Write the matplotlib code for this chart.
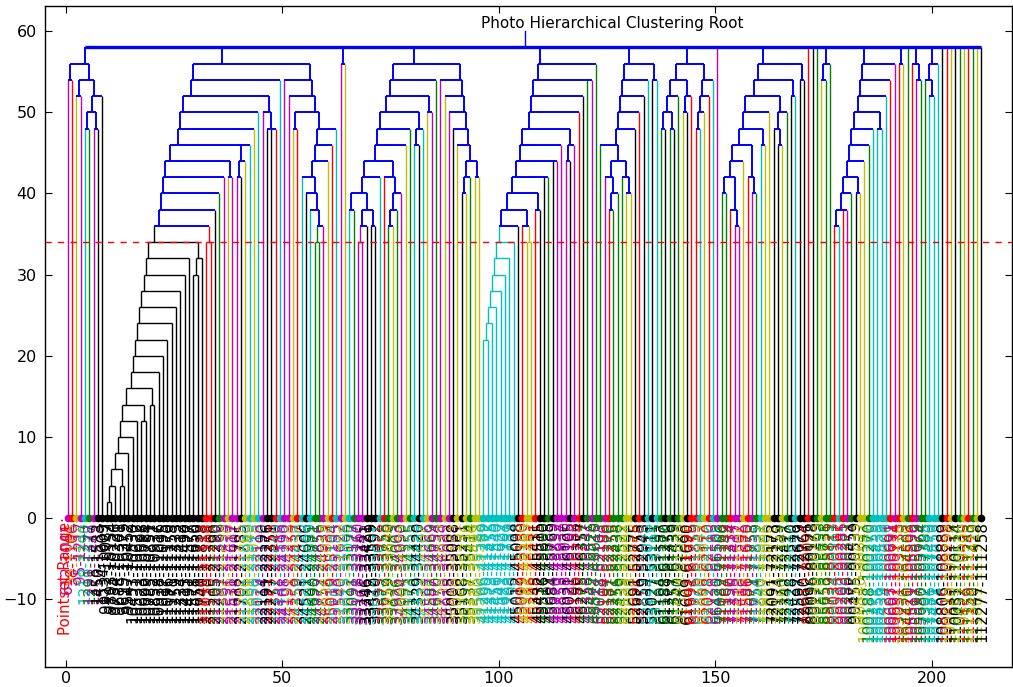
import matplotlib
matplotlib.use('Agg')
import matplotlib.pyplot as plt

ROOT_HEIGHT = 58
THRESHOLD = 34
N_LEAVES = 212
TITLE = "Photo Hierarchical Clustering Root"
RANGE_TITLE = "Pointset Range:"

# leaf colour codes, leaf 0 .. 211
LEAF_COLOR_CODES = ("mrymcgmkkk" "kkkkkkkkkk" "kkkkkkkkkk" "kkrrkgmymm"
                    "kycycmkkrc" "mmyrckcggm" "yrcmycgmmk" "kkcrgygmyg"
                    "ckcymgmymk" "ykygyycccc" "cccckryyrk" "kgkmmmkmrk"
                    "gmggmrgggy" "ykrkckcgkg" "kgykrrcyrc" "mggrmmyrmg"
                    "cyykkygkck" "krkgyggrcr" "mgkyygcccc" "rmrygrmggc"
                    "cckrykgyrgyk")

LEAF_LABELS = """
612-1041 38-1106 77-1152 95-1217 1218-1290 1291-1377 1378-1449 1450-1533 1534-1609
9912-10087 9803-10154 9734-10226 9688-10301 9615-10379 9547-10452
10453-10530 10531-10622 10623-10698 10699-10784 10785-10851 10852-10937 10938-11016
11017-11095 11096-11170 11171-11258 11259-11333 11334-11412 11413-11490 11491-11577
11578-11650 11651-11739 11740-11818
21035-21118 21119-21204 21205-21290 21291-21366 21367-21455 21456-21530 21531-21617
21618-21701 21702-21785 21786-21860 21861-21949 21950-22028 22029-22113 22114-22190
22191-22276 22277-22351 22352-22440 22441-22519
24108-24190 24191-24273 24274-24358 24359-24437 24438-24520 24521-24606 24607-24689
24690-24771 24772-24856 24857-24935 24936-25018 25019-25104 25105-25183
31540-31622 31623-31708
33012-33090 33091-33177 33178-33260 33261-33345 33346-33421 33422-33509 33510-33592
33593-33671 33672-33758 33759-33840 33841-33925 33926-34003 34004-34090 34091-34172
34173-34255 34256-34338 34339-34420 34421-34507 34508-34586 34587-34669 34670-34754
34755-34838 34839-34917 34918-35002 35003-35088 35089-35167 35168-35251 35252-35336
35337-35414 35415-35499 35500-35583
41206-41289 41290-41372 41373-41455 41456-41540 41541-41622 41623-41707 41708-41789
41790-41874
45012-45098 45099-45180 45181-45265 45266-45347 45348-45431 45432-45515 45516-45600
45601-45683 45684-45769 45770-45852 45853-45937 45938-46020 46021-46105 46106-46188
46189-46274 46275-46357 46358-46441 46442-46526 46527-46610
52018-52103 52104-52186 52187-52270 52271-52355 52356-52438 52439-52522 52523-52607
52608-52690 52691-52775 52776-52858 52859-52943 52944-53026 53027-53111 53112-53195
61104-61187 61188-61270 61271-61356 61357-61439 61440-61523 61524-61608 61609-61690
61691-61775 61776-61859 61860-61942 61943-62027 62028-62110 62111-62196
66420-66503
71082-71166 71167-71249 71250-71334 71335-71417 71418-71502 71503-71585 71586-71670
71671-71753 71754-71839 71840-71921 71922-72006 72007-72090 72091-72173 72174-72259
72260-72341 72342-72427 72428-72510 72511-72596 72597-72679 72680-72764
80012-80095 80096-80178 80179-80263
85570-85652 85653-85738 85739-85821
90034-90117 90118-90202 90203-90285 90286-90371 90372-90454 90455-90539 90540-90622
100102-100187 100188-100270 100271-100355 100356-100438 100439-100523 100524-100606
100607-100691 100692-100774 103051-103135 103136-103218 104420-104503 105511-105596
105597-105679 105680-105764 107302-107385 107386-107470 107471-107553 107554-107638
108806-108889 109215-109298 109640-109724 110031-110114 110452-110536 110817-110900
111159-111243 111340-111429 111861-111944 112277-111258
""".split()

# ---- tree: (merge height, child, child, ...) ; integers are leaf indices ----
CLUSTER_A = (56, (54, 0, 1), (54, (52, 2, 3), (52, (50, (48, 4, 5), (48, 6, 7)), 8)))

CLUSTER_BLACK = (34, (32, (30, (28, (26, (24, (22, (20, (18, (16, (14, (12, (10, (8, (6,
                 (4, (2, 9, 10), 11), (4, 12, 13)), 14), 15), 16), (12, 17, 18)), (14, 19, 20)),
                 21), 22), 23), 24), 25), 26), 27), 28), (32, (30, 29, 30), 31))

CLUSTER_B_LEFT = (54, (52, (50, (48, (46, (44, (42, (40, (38, (36, CLUSTER_BLACK, (34, 32, 33)),
                  34), 35), 36), (42, 37, 38)), (46, (44, (42, 39, 40), 41), 42)), 43), 44),
                  (50, 45, (48, 46, (48, 47, 48)))), 49)

CLUSTER_B_RIGHT = (54, 50, (52, 51, (50, (48, 52, 53), (48, (46, (44, (42, 54, (40, 55, (38, 56,
                   (36, (34, 57, 58), 59)))), 60), 61), 62))))

PAIR_63 = (56, 63, 64)

CLUSTER_C_LEFT = (54, (52, (50, (48, (46, (44, (42, (40, (38, 65, 66), (38, (36, (34, 67, 68), 69),
                  (36, 70, 71))), 72), (42, 73, (40, (38, (36, 74, 75), 76), 77))), 78), 79),
                  (48, (46, 80, 81), 82)), (50, 83, 84)), 85)

CLUSTER_C_RIGHT = (54, 86, (52, 87, (50, 88, (48, 89, (46, 90, (44, (42, (40, 91, 92), 93),
                   (42, 94, 95)))))))

CLUSTER_CYAN = (34, (32, (30, (28, (26, (24, (22, 96, 97), 98), 99), 100), 101), 102), 103)

CLUSTER_D = (56, (54, (52, (50, (48, (46, (44, (42, (40, (38, (36, CLUSTER_CYAN, 104),
             (36, 105, (34, 106, 107))), (38, 108, 109)), (42, 110, 111)), (44, 112, 113)), 114),
             (46, (44, 115, 116), 117)), 118), 119), (54, 120, 121)), 122)

CLUSTER_E = (56, (54, (52, (50, (48, (46, 123, (44, (42, 124, (40, (38, 125, 126), 127)),
             (42, 128, (40, 129, 130)))), 131), 132), 133), 134), (54, 135, 136))

CLUSTER_F = (56, (54, (52, (50, (48, 137, 138), (48, 139, 140)), 141), (52, (50, 142, 143), 144)),
             (54, (52, (50, (48, 145, 146), 147), 148), 149))

CLUSTER_G = (56, (54, (52, (50, (48, (46, (44, (42, (40, 151, 152), (38, 153, (36, 154, 155))),
             156), (42, 157, (40, 158, 159))), (46, 160, 161)), 162),
             (50, (48, 163, (46, 164, 165)), 166)), (52, 167, 168)), (54, 169, 170))

TRIPLE_174 = (56, (54, 174, 175), 176)

CLUSTER_H = (56, (54, (52, (50, (48, (46, (44, (42, (40, (38, (36, 177, 178), (38, 179, 180)), 181),
             (40, 182, 183)), 184), 185), 186), (48, 187, 188)), 189), 190), 191)

PAIR_192 = (56, 192, 193)
TRIPLE_195 = (56, 195, (54, 196, 197))
QUAD_198 = (56, (54, 198, (52, 199, 200)), 201)

ROOT_CHILDREN = [CLUSTER_A, (56, CLUSTER_B_LEFT, CLUSTER_B_RIGHT), PAIR_63,
                 (56, CLUSTER_C_LEFT, CLUSTER_C_RIGHT), CLUSTER_D, CLUSTER_E, CLUSTER_F, 150,
                 CLUSTER_G, 171, 172, 173, TRIPLE_174, CLUSTER_H, PAIR_192, 194, TRIPLE_195,
                 QUAD_198, 202, 203, 204, 205, 206, 207, 208, 209, 210, 211]

CODE_TO_RGB = {'b': (0, 0, 1), 'g': (0, 0.5, 0), 'r': (1, 0, 0), 'c': (0, 0.75, 0.75),
               'm': (0.75, 0, 0.75), 'y': (0.75, 0.75, 0), 'k': (0, 0, 0)}
LEAF_OFFSET = 0.5

ROOT = (ROOT_HEIGHT,) + tuple(ROOT_CHILDREN)


def leaves_of(node):
    if isinstance(node, int):
        return [node]
    out = []
    for c in node[1:]:
        out += leaves_of(c)
    return out


def xpos(node):
    lv = leaves_of(node)
    return sum(i + LEAF_OFFSET for i in lv) / len(lv)


def height(node):
    return 0 if isinstance(node, int) else node[0]


def colour_of(node):
    if isinstance(node, int):
        return CODE_TO_RGB[LEAF_COLOR_CODES[node]]
    if node[0] <= THRESHOLD:
        return CODE_TO_RGB[LEAF_COLOR_CODES[leaves_of(node)[0]]]
    return CODE_TO_RGB['b']


fig = plt.figure(figsize=(10.13, 6.87), dpi=100)
ax = fig.add_axes([0.0444, 0.0295, 0.9543, 0.9618])


def draw(node, is_root=False):
    if isinstance(node, int):
        return
    h = node[0]
    xs = [xpos(c) for c in node[1:]]
    col = colour_of(node)
    blue = h > THRESHOLD
    for c, x in zip(node[1:], xs):
        cc = colour_of(c)
        lw = 1.4 if (not isinstance(c, int) and height(c) > THRESHOLD) else 1.0
        ax.plot([x, x], [height(c), h], color=cc, lw=lw, solid_capstyle='butt', zorder=2)
        draw(c)
    ax.plot([min(xs), max(xs)], [h, h], color=col,
            lw=(2.4 if is_root else (1.4 if blue else 1.0)), solid_capstyle='butt', zorder=3)


draw(ROOT, is_root=True)
root_x = xpos(ROOT)
ax.plot([root_x, root_x], [ROOT_HEIGHT, ROOT_HEIGHT + 2], color='b', lw=1.0, zorder=3)
ax.text(96, 61.0, TITLE, ha='left', va='center', fontsize=11)

# threshold
ax.axhline(THRESHOLD, color='r', ls='--', lw=1, dashes=(4.5, 4.5), zorder=4)

# leaf markers and labels
for i in range(N_LEAVES):
    col = CODE_TO_RGB[LEAF_COLOR_CODES[i]]
    x = i + LEAF_OFFSET
    ax.plot([x], [0], 'o', color=col, ms=4.5, mec=col, zorder=5)
    ax.text(x, -0.35, LEAF_LABELS[i], rotation=90, ha='center', va='top',
            fontsize=11, color=col)
ax.text(0, 0.1, RANGE_TITLE, rotation=90, ha='center', va='top', fontsize=10.8, color='r')

ax.set_xlim(-4.78, 218.5)
ax.set_ylim(-18.3, 63.1)
ax.set_xticks([0, 50, 100, 150, 200])
ax.set_yticks([-10, 0, 10, 20, 30, 40, 50, 60])
ax.tick_params(direction='in', top=True, right=True, length=5, labelsize=11.5)
ax.tick_params(axis='x', pad=3)
ax.tick_params(axis='y', pad=6)
for s in ax.spines.values():
    s.set_linewidth(1.0)

fig.savefig('out.png', dpi=100)
